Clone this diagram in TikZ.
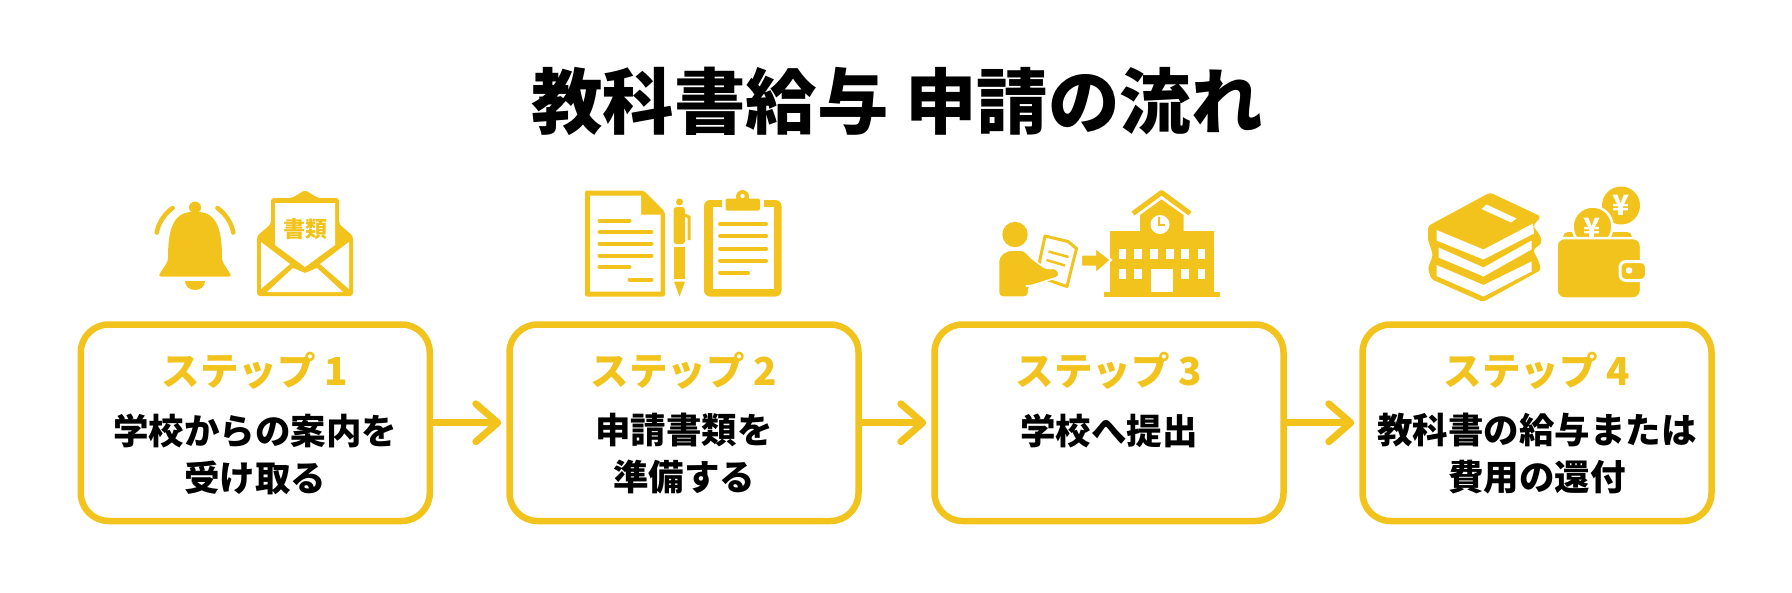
\documentclass[tikz,border=0pt]{standalone}
\usepackage{fontspec}
\setmainfont{Noto Sans CJK JP}
\newfontfamily\titlefont{Noto Sans CJK JP Black}
\usepackage{tikz}
\usetikzlibrary{arrows.meta}
\definecolor{stepyellow}{HTML}{F2C31C}

\begin{document}
\begin{tikzpicture}[
  x=1pt,y=-1pt,
  stepbox/.style={draw=stepyellow,line width=6.5pt,rounded corners=28pt,
    minimum width=349pt,minimum height=196.5pt,fill=white},
  stepword/.style={text=stepyellow,font=\bfseries\fontsize{38.5}{44}\selectfont},
  stepbody/.style={align=center,font=\bfseries\fontsize{35.5}{47}\selectfont},
  steparrow/.style={draw=stepyellow,line width=7pt,shorten >=5pt,
    -{Straight Barb[length=22pt,width=38pt,round]}},
  iconfill/.style={fill=stepyellow,draw=none},
  iconline/.style={draw=stepyellow,line width=4pt,line cap=round},
  iconwhite/.style={fill=white,draw=none}]
  \useasboundingbox (0,0) rectangle (1792,592);
  \node[font=\titlefont\fontsize{71.5}{80}\selectfont] (title) at (897,101)
    {教科書給与 申請の流れ};

  \node[stepbox] (box1) at (255.25,422.75) {};
  \node[stepbox] (box2) at (684,422.75) {};
  \node[stepbox] (box3) at (1109,422.75) {};
  \node[stepbox] (box4) at (1537,422.75) {};
  \node[stepword] (word1) at (255,371) {ステップ 1};
  \node[stepword] (word2) at (684,371) {ステップ 2};
  \node[stepword] (word3) at (1109,371) {ステップ 3};
  \node[stepword] (word4) at (1537,371) {ステップ 4};
  \node[stepbody] (body1) at (255,454) {学校からの案内を\\受け取る};
  \node[stepbody] (body2) at (684,454) {申請書類を\\準備する};
  \node[stepbody] (body3) at (1109,431) {学校へ提出};
  \node[stepbody] (body4) at (1537,454) {教科書の給与または\\費用の還付};
  \draw[steparrow]
    (box1)
    --
    (box2);
  \draw[steparrow]
    (box2)
    --
    (box3);
  \draw[steparrow]
    (box3)
    --
    (box4);

  % bell
  \filldraw[iconfill]
    (195,207.5)
    circle
    [radius=6];
  \fill[stepyellow,rounded corners=3pt]
    (158,276.5)
    --
    (168,261)
    .. controls (168,235) and (171,212) .. (195,212)
    .. controls (219,212) and (222,235) .. (222,261)
    --
    (232,276.5)
    --
    cycle;
  \fill[stepyellow]
    (185,281)
    --
    (205,281)
    .. controls (205,287) and (200,290) .. (195,290)
    .. controls (190,290) and (185,287) .. (185,281)
    --
    cycle;
  \draw[iconline,line width=4.5pt,domain=125:169]
    plot
    ({195+39*cos(\x)},{240-39*sin(\x)});
  \draw[iconline,line width=4.5pt,domain=11:55]
    plot
    ({195+39*cos(\x)},{240-39*sin(\x)});

  % envelope
  \fill[stepyellow,rounded corners=3pt]
    (257,236) -- (271,224) -- (271,198) -- (292,198) -- (305,190)
    -- (318,198) -- (339,198) -- (339,224) -- (353,236)
    -- (353,296) -- (257,296) -- cycle;
  \fill[iconwhite]
    (275,203) -- (335,203) -- (335,245) -- (305,267) -- (275,245) -- cycle;
  \fill[iconwhite]
    (261,242) -- (290,264) -- (261,289) -- cycle;
  \fill[iconwhite]
    (349,242) -- (320,264) -- (349,289) -- cycle;
  \fill[iconwhite]
    (267,292) -- (293,268) -- (305,273) -- (317,268) -- (343,292) -- cycle;
  \node[text=stepyellow,font=\bfseries\fontsize{22}{24}\selectfont] (papers) at (305,229)
    {書類};

  % document
  \fill[stepyellow,rounded corners=2pt]
    (585,190.5) -- (643.5,190.5) -- (665,212) -- (665,296.5) -- (585,296.5) -- cycle;
  \fill[iconwhite]
    (590,195.5) -- (641,195.5) -- (641,214.5) -- (660.5,214.5) -- (660.5,291.5)
    -- (590,291.5) -- cycle;
  \draw[iconline]
    (599.5,220.5)
    --
    (629.5,220.5);
  \draw[iconline]
    (599.5,232)
    --
    (651.5,232);
  \draw[iconline]
    (599.5,243.5)
    --
    (651.5,243.5);
  \draw[iconline]
    (599.5,255.5)
    --
    (651.5,255.5);
  \draw[iconline]
    (599.5,267)
    --
    (629.5,267);
  \draw[iconline]
    (629.5,279.5)
    --
    (651.5,279.5);

  % pen
  \fill[stepyellow]
    (679.5,202)
    circle
    [radius=3.5];
  \fill[stepyellow,rounded corners=3pt]
    (673.5,244) -- (673.5,207) -- (685,207) -- (685,244) -- cycle;
  \fill[stepyellow]
    (673.5,247) -- (685,247) -- (685,278.5) -- (673.5,278.5) -- cycle;
  \fill[stepyellow]
    (674,281.5) -- (685,281.5) -- (679.5,296.5) -- cycle;
  \draw[iconline,line width=3pt,line cap=butt]
    (685,215)
    --
    (689,217)
    --
    (689,240);

  % clipboard
  \fill[stepyellow,rounded corners=6pt]
    (704,200) rectangle (781.5,296.5);
  \fill[iconwhite]
    (712.5,207) rectangle (773.5,288.5);
  \fill[iconwhite]
    (721.5,196) rectangle (764,210);
  \fill[stepyellow]
    (742.5,196.5)
    circle
    [radius=6.5];
  \fill[stepyellow,rounded corners=2pt]
    (725.5,198.5) rectangle (760,210.5);
  \fill[iconwhite]
    (742.5,196)
    circle
    [radius=2.2];
  \draw[iconline]
    (720,224)
    --
    (766,224);
  \draw[iconline]
    (720,236)
    --
    (766,236);
  \draw[iconline]
    (720,248.5)
    --
    (766,248.5);
  \draw[iconline]
    (720,260.5)
    --
    (766,260.5);
  \draw[iconline]
    (720,272.5)
    --
    (748,272.5);

  % person with paper
  \fill[stepyellow]
    (1015,234.5)
    circle
    [radius=12.7];
  \draw[stepyellow,fill=white,line width=3pt,line join=round]
    (1045,236) -- (1068,241.5) -- (1076.5,248.5) -- (1067,286.5) -- (1036.5,276) -- cycle;
  \draw[stepyellow,line width=2.5pt]
    (1048.5,251.5)
    --
    (1068.5,257);
  \draw[stepyellow,line width=2.5pt]
    (1046.5,260)
    --
    (1065,265.5);
  \filldraw[fill=stepyellow,draw=white,line width=1.5pt,rounded corners=4pt]
    (998.5,297) -- (998.5,265) .. controls (998.5,255) and (1006,250) .. (1016.5,250)
    .. controls (1023,250) and (1027,253) .. (1031,258)
    -- (1046.5,269) -- (1057,268) -- (1060,276.5) -- (1030,286) -- (1028.5,286)
    -- (1028.5,297) -- cycle;

  % school
  \fill[stepyellow]
    (1140,231) -- (1140,215) -- (1161.5,199.5) -- (1183.5,215) -- (1183.5,231) -- cycle;
  \draw[stepyellow,line width=5pt,line join=round]
    (1133,213.5)
    --
    (1161.5,192.5)
    --
    (1190,213.5);
  \fill[stepyellow]
    (1109.5,231) rectangle (1214,292);
  \fill[stepyellow]
    (1104,292) rectangle (1219.5,297);
  \fill[iconwhite]
    (1160,224.5)
    circle
    [radius=9.5];
  \draw[stepyellow,line width=2pt]
    (1158.5,216.5)
    --
    (1158.5,225)
    --
    (1164.5,225);
  \fill[iconwhite] (1118.5,248.5) rectangle (1125.5,259);
  \fill[iconwhite] (1134,248.5) rectangle (1141.5,259);
  \fill[iconwhite] (1150,248.5) rectangle (1157.5,259);
  \fill[iconwhite] (1165.5,248.5) rectangle (1173.5,259);
  \fill[iconwhite] (1181,248.5) rectangle (1189,259);
  \fill[iconwhite] (1197.5,248.5) rectangle (1205,259);
  \fill[iconwhite] (1118.5,268.5) rectangle (1125.5,279);
  \fill[iconwhite] (1134,268.5) rectangle (1141.5,279);
  \fill[iconwhite] (1151,268.5) rectangle (1172.5,292);
  \fill[iconwhite] (1181,268.5) rectangle (1189,279);
  \fill[iconwhite] (1197.5,268.5) rectangle (1205,279);
  \filldraw[fill=stepyellow,draw=white,line width=2pt]
    (1081,254.5) -- (1095,254.5) -- (1095,247.5) -- (1111,260) -- (1095,274)
    -- (1095,266.5) -- (1081,266.5) -- cycle;

  % books
  \fill[stepyellow,rounded corners=3pt]
    (1490,192.5) -- (1541,216.5) -- (1533,226) -- (1540,235) -- (1542,243)
    -- (1533,250) -- (1539,262) -- (1541,270) -- (1483,302) -- (1431,279)
    -- (1428,268) -- (1433,255) -- (1428,240) -- (1428,226) -- cycle;
  \fill[iconwhite]
    (1436.5,230) -- (1483.5,249.5) -- (1533,223.5) -- (1534,233.5)
    -- (1483.5,259.5) -- (1436.5,240.5) -- cycle;
  \fill[iconwhite]
    (1438.5,247.5) -- (1483.5,267.5) -- (1531.5,240.5) -- (1531.5,249.5)
    -- (1483.5,276.5) -- (1438.5,257.5) -- cycle;
  \fill[iconwhite]
    (1436.5,265) -- (1483.5,285) -- (1531.5,261.5) -- (1531.5,271.5)
    -- (1483.5,296.5) -- (1436.5,276) -- cycle;
  \fill[iconwhite]
    (1486.5,204.5) -- (1516.5,218.5) -- (1511,222.5) -- (1481.5,209) -- cycle;

  % wallet
  \fill[stepyellow,rounded corners=5pt]
    (1563,232) rectangle (1632,250);
  \fill[stepyellow]
    (1621,205.5)
    circle
    [radius=19];
  \filldraw[fill=stepyellow,draw=white,line width=2.5pt]
    (1592.5,226.5)
    circle
    [radius=20];
  \node[text=white,font=\bfseries\fontsize{28}{30}\selectfont] (yen1) at (1621,205.5) {¥};
  \node[text=white,font=\bfseries\fontsize{28}{30}\selectfont] (yen2) at (1592.5,228) {¥};
  \filldraw[fill=stepyellow,draw=white,line width=2.5pt,rounded corners=8pt]
    (1556.5,238) rectangle (1641,298.5);
  \filldraw[fill=stepyellow,draw=white,line width=3pt,rounded corners=6pt]
    (1620,261.5) rectangle (1646.5,280.5);
  \fill[iconwhite]
    (1629,270.5)
    circle
    [radius=3.3];
\end{tikzpicture}
\end{document}
